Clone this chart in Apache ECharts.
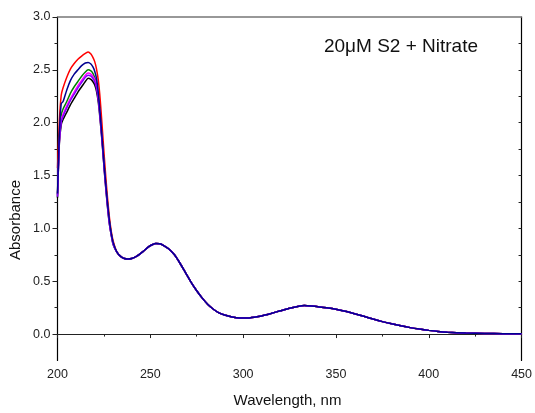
<!DOCTYPE html>
<html>
<head>
<meta charset="utf-8">
<script src="https://cdn.jsdelivr.net/npm/echarts@6/dist/echarts.min.js"></script>
<style>html,body{margin:0;padding:0;background:#fff}#c{width:535px;height:413px}</style>
</head>
<body>
<div id="c"></div>
<script>
// wavelengths (nm) of the peak region, where the six spectra differ
var headWl = [200, 201, 202, 203, 205, 207, 209, 211, 213, 215, 216.5, 218, 219, 220, 221, 222, 223, 224, 225, 226, 227, 228, 229, 230];
var redHead     = [1.57, 2.02, 2.26, 2.33, 2.43, 2.51, 2.56, 2.60, 2.63, 2.655, 2.67, 2.65, 2.62, 2.58, 2.51, 2.40, 2.22, 1.98, 1.73, 1.49, 1.28, 1.10, 0.97, 0.88];
var navyHead    = [1.33, 1.90, 2.18, 2.20, 2.31, 2.40, 2.46, 2.50, 2.54, 2.565, 2.57, 2.555, 2.53, 2.49, 2.42, 2.28, 2.08, 1.86, 1.63, 1.42, 1.23, 1.07, 0.95, 0.865];
var greenHead   = [1.32, 1.85, 2.07, 2.13, 2.20, 2.28, 2.34, 2.39, 2.44, 2.48, 2.50, 2.49, 2.47, 2.43, 2.37, 2.25, 2.06, 1.85, 1.62, 1.41, 1.22, 1.06, 0.945, 0.86];
var magentaHead = [1.31, 1.83, 2.03, 2.08, 2.16, 2.23, 2.29, 2.35, 2.40, 2.45, 2.47, 2.46, 2.44, 2.41, 2.35, 2.23, 2.05, 1.84, 1.61, 1.40, 1.21, 1.05, 0.94, 0.855];
var violetHead  = [1.30, 1.82, 2.01, 2.06, 2.14, 2.21, 2.27, 2.33, 2.38, 2.43, 2.45, 2.44, 2.42, 2.39, 2.33, 2.22, 2.04, 1.83, 1.60, 1.39, 1.20, 1.04, 0.935, 0.85];
var blackHead   = [1.29, 1.80, 1.98, 2.03, 2.10, 2.17, 2.23, 2.29, 2.34, 2.39, 2.42, 2.41, 2.39, 2.36, 2.30, 2.19, 2.02, 1.82, 1.59, 1.38, 1.19, 1.035, 0.93, 0.845];

// shared part of the spectra (all six curves overlap here)
var tailWl = [232, 234, 236, 238, 240, 243, 246, 249, 251, 253, 255, 257, 260, 263, 266, 269, 272, 275, 278, 281, 284, 287, 290, 294, 298, 302, 306, 310, 315, 320, 325, 330, 333, 337, 341, 345, 350, 355, 360, 365, 370, 375, 380, 385, 390, 395, 400, 405, 410, 420, 430, 440, 450];
var tailAbs = [0.775, 0.735, 0.715, 0.71, 0.715, 0.74, 0.78, 0.825, 0.845, 0.857, 0.855, 0.84, 0.805, 0.75, 0.67, 0.58, 0.49, 0.41, 0.34, 0.28, 0.235, 0.20, 0.18, 0.162, 0.152, 0.152, 0.16, 0.172, 0.195, 0.22, 0.245, 0.264, 0.27, 0.265, 0.257, 0.248, 0.234, 0.215, 0.192, 0.168, 0.142, 0.118, 0.097, 0.078, 0.061, 0.047, 0.035, 0.025, 0.018, 0.010, 0.006, 0.004, 0.003];

var xTicks = [200, 250, 300, 350, 400, 450];
var yMajor = [0, 0.5, 1.0, 1.5, 2.0, 2.5, 3.0];
var yMinor = [0.25, 0.75, 1.25, 1.75, 2.25, 2.75];
var yAll = [0, 0.25, 0.5, 0.75, 1.0, 1.25, 1.5, 1.75, 2.0, 2.25, 2.5, 2.75];
var titleText = '20\u03bcM S2 + Nitrate';

function build(head) {
  var wl = headWl.concat(tailWl);
  var ab = head.concat(tailAbs);
  return wl.map(function (w, i) { return [w, ab[i]]; });
}
var seriesDefs = [
  { name: 'red', color: '#ff0000', head: redHead },
  { name: 'black', color: '#000000', head: blackHead },
  { name: 'green', color: '#008000', head: greenHead },
  { name: 'magenta', color: '#ff00ff', head: magentaHead },
  { name: 'violet', color: '#8000ff', head: violetHead },
  { name: 'navy', color: '#000090', head: navyHead }
];

var FONT = '"Liberation Sans", Arial, sans-serif';
var chart = echarts.init(document.getElementById('c'), null, { renderer: 'canvas' });
chart.setOption({
  animation: false,
  backgroundColor: '#fff',
  grid: { left: 57.5, right: 12.5, top: 17, bottom: 52.5, containLabel: false },
  xAxis: [{
    type: 'value', min: 200, max: 450, interval: 50, position: 'bottom',
    axisLine: { show: true, lineStyle: { color: '#222', width: 1.2 } },
    axisTick: { show: true, length: 4, lineStyle: { color: '#222' } },
    minorTick: { show: true, splitNumber: 2, length: 2.5, lineStyle: { color: '#222' } },
    axisLabel: { show: true, customValues: xTicks, margin: 8, fontSize: 12.5, color: '#222', fontFamily: FONT },
    splitLine: { show: false }
  }, {
    type: 'value', min: 200, max: 450, position: 'top',
    axisLine: { show: true, onZero: false, lineStyle: { color: '#777', width: 1.5 } },
    axisTick: { show: false }, axisLabel: { show: false }, splitLine: { show: false }
  }],
  yAxis: [{
    type: 'value', min: -0.25, max: 3, position: 'left',
    axisLine: { show: true, onZero: false, lineStyle: { color: '#000', width: 1.2 } },
    axisTick: { show: true, customValues: yMajor, length: 5, lineStyle: { color: '#222' } },
    axisLabel: { show: true, customValues: yMajor, margin: 7, fontSize: 12.5, color: '#222', fontFamily: FONT,
      formatter: function (v) { return v.toFixed(1); } },
    splitLine: { show: false }
  }, {
    type: 'value', min: -0.25, max: 3, position: 'left',
    axisLine: { show: false, onZero: false },
    axisTick: { show: true, customValues: yMinor, length: 3, lineStyle: { color: '#222' } },
    axisLabel: { show: false }, splitLine: { show: false }
  }, {
    type: 'value', min: -0.25, max: 3, position: 'right',
    axisLine: { show: true, onZero: false, lineStyle: { color: '#000', width: 1.2 } },
    axisTick: { show: true, inside: true, customValues: yAll, length: 3, lineStyle: { color: '#222' } },
    axisLabel: { show: false }, splitLine: { show: false }
  }],
  graphic: [
    { type: 'text', x: 401, y: 47, style: { text: titleText, font: '19px ' + FONT, fill: '#111', align: 'center', verticalAlign: 'middle' } },
    { type: 'text', x: 287.5, y: 401, style: { text: 'Wavelength, nm', font: '15px ' + FONT, fill: '#111', align: 'center', verticalAlign: 'middle' } },
    { type: 'text', x: 16, y: 220, rotation: Math.PI / 2, style: { text: 'Absorbance', font: '15px ' + FONT, fill: '#111', align: 'center', verticalAlign: 'middle' } }
  ],
  series: seriesDefs.map(function (d) {
    return {
      name: d.name, type: 'line', xAxisIndex: 0, yAxisIndex: 0,
      data: build(d.head), showSymbol: false, symbol: 'none',
      smooth: 0.2,
      lineStyle: { color: d.color, width: 1.5 },
      itemStyle: { color: d.color }
    };
  })
});
</script>
</body>
</html>
